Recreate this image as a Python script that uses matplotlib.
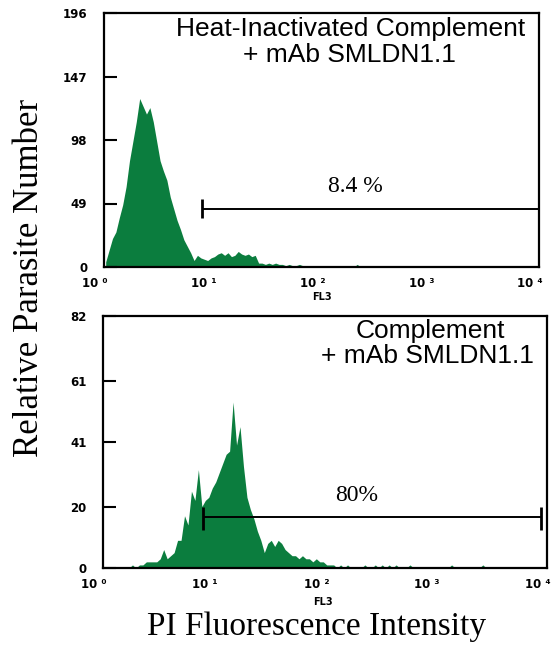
import numpy as np
import matplotlib
matplotlib.use('Agg')
import matplotlib.pyplot as plt
import matplotlib.transforms as mtransforms
from matplotlib.ticker import NullLocator

# counts per channel: 128 log channels from 10^0 to 10^4 (32 per decade)
heat_counts = [4, 13, 22, 27, 38, 48, 62, 82, 97, 112, 130, 124, 118, 123, 112, 97,
               82, 74, 67, 54, 45, 36, 29, 21, 16, 11, 5, 9, 7, 6, 5, 7,
               8, 10, 11, 9, 11, 8, 9, 12, 10, 9, 10, 8, 9, 3, 3, 2,
               3, 2, 3, 2, 2, 1, 2, 1, 1, 2, 1, 0, 1, 1, 0, 1,
               0, 1, 0, 0, 1, 0, 0, 1, 0, 0, 2, 0, 0, 1, 0, 0,
               0, 0, 1, 0, 0, 0, 0, 0, 0, 0, 1, 0, 0, 0, 0, 0,
               0, 0, 0, 0, 0, 1, 0, 0, 0, 0, 0, 0, 0, 0, 0, 0,
               0, 0, 0, 0, 0, 0, 0, 0, 0, 0, 0, 0, 0, 0, 0, 0]
comp_counts = [0, 0, 0, 0, 0, 0, 0, 0, 1, 0, 1, 1, 2, 2, 2, 2,
               3, 6, 3, 4, 5, 9, 9, 17, 14, 25, 22, 32, 20, 22, 23, 26,
               28, 31, 34, 37, 38, 54, 40, 46, 33, 23, 19, 16, 12, 9, 5, 8,
               9, 7, 9, 8, 6, 5, 4, 4, 3, 4, 3, 3, 2, 3, 2, 2,
               1, 1, 1, 0, 1, 0, 1, 0, 0, 0, 0, 1, 0, 0, 1, 0,
               1, 0, 1, 0, 1, 0, 0, 0, 1, 0, 0, 0, 0, 0, 0, 0,
               0, 0, 0, 0, 1, 0, 0, 0, 0, 0, 0, 0, 0, 1, 0, 0,
               0, 0, 0, 0, 0, 0, 0, 0, 0, 0, 0, 0, 0, 0, 0, 0]

x_ticks = [1, 10, 100, 1000, 10000]
x_tick_labels = ['10 \u2070', '10 \u00b9', '10 \u00b2', '10 \u00b3', '10 \u2074']
heat_yticks = [0, 49, 98, 147, 196]
comp_yticks = [0, 20, 41, 61, 82]

# gate: start, end, level, cap low, cap high
heat_gate = [8, 10000, 44.8, 37.8, 52.5]
comp_gate = [8, 8800, 16.7, 12.5, 20.0]
heat_pct = '8.4 %'
comp_pct = '80%'

green = '#0b7d3e'
W, H = 556, 647

fig = plt.figure(figsize=(W / 100, H / 100), dpi=100)
ax1 = fig.add_axes([104 / W, 1 - 267 / H, 435 / W, 254 / H])
ax2 = fig.add_axes([103 / W, 1 - 568 / H, 444 / W, 252 / H])

centers = 10 ** ((np.arange(len(heat_counts)) + 0.5) / 32)


def draw_panel(ax, counts, yticks, gate, pct, pct_xy):
    ax.fill_between(centers, counts, color=green, lw=0)
    ax.set_xscale('log')
    ax.set_xlim(1, 1e4)
    ax.set_ylim(0, yticks[-1])
    ax.set_xticks(x_ticks)
    ax.set_xticklabels(x_tick_labels)
    ax.xaxis.set_minor_locator(NullLocator())
    ax.set_yticks(yticks)
    ax.tick_params(axis='x', length=0, pad=7, labelsize=8.5)
    ax.tick_params(axis='y', direction='in', length=9.4, width=1.5, pad=12, labelsize=8.5)
    offset = mtransforms.ScaledTranslation(4 / 100, 0, fig.dpi_scale_trans)
    for lab in ax.get_xticklabels():
        lab.set_fontweight('bold')
        lab.set_ha('right')
        lab.set_transform(lab.get_transform() + offset)
    for lab in ax.get_yticklabels():
        lab.set_fontweight('bold')
    for s in ax.spines.values():
        s.set_linewidth(1.6)
    x0, x1, yg, ylo, yhi = gate
    ax.hlines(yg, x0, x1, color='black', lw=1.4)
    ax.vlines([x0, x1], ylo, yhi, color='black', lw=2)
    ax.text(pct_xy[0], pct_xy[1], pct, ha='center', va='baseline',
            family='Liberation Serif', fontsize=17)


draw_panel(ax1, heat_counts, heat_yticks, heat_gate, heat_pct, (204, 57.9))
draw_panel(ax2, comp_counts, comp_yticks, comp_gate, comp_pct, (194, 21.7))

sans = dict(family='Liberation Sans', fontsize=19, ha='center', va='baseline')
fig.text(351 / W, 1 - 36 / H, 'Heat-Inactivated Complement', **sans)
fig.text(349 / W, 1 - 62 / H, '+ mAb SMLDN1.1', **sans)
fig.text(430 / W, 1 - 338 / H, 'Complement', **sans)
fig.text(427 / W, 1 - 363 / H, '+ mAb SMLDN1.1', **sans)

fig.text(322 / W, 1 - 297 / H, 'FL3', ha='center', va='center', fontsize=7, weight='bold')
fig.text(323 / W, 1 - 602 / H, 'FL3', ha='center', va='center', fontsize=7, weight='bold')

fig.text(30 / W, 1 - 278 / H, 'Relative Parasite Number', rotation=90,
         ha='center', va='center', family='Liberation Serif', fontsize=25)
fig.text(317 / W, 1 - 635 / H, 'PI Fluorescence Intensity',
         ha='center', va='baseline', family='Liberation Serif', fontsize=24)

fig.savefig('out.png', dpi=100)
